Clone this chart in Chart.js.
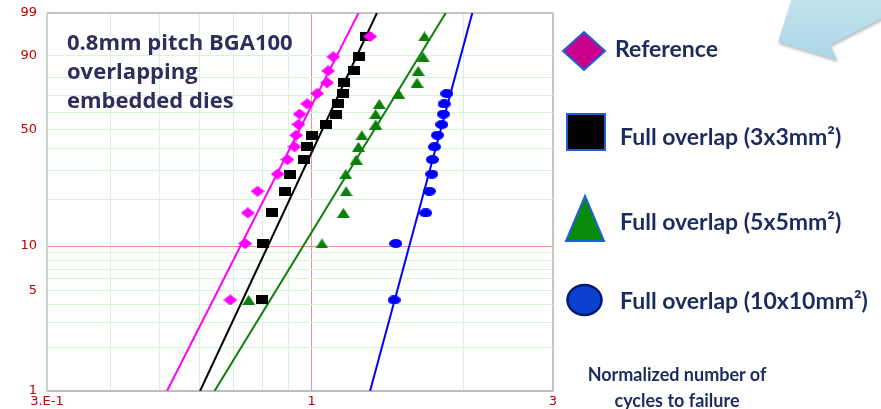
<!DOCTYPE html>
<html>
<head>
<meta charset="utf-8">
<script src="https://cdn.jsdelivr.net/npm/chart.js@4.4.1/dist/chart.umd.min.js"></script>
<style>
  body { margin: 0; background: #fff; }
  #wrap { position: relative; width: 881px; height: 409px; overflow: hidden; }
  #chart { position: absolute; left: 0; top: 0; }
  #deco { position: absolute; left: 0; top: 0; }
  .note { position: absolute; left: 67px; top: 27px; font: bold 22px "Open Sans", sans-serif; line-height: 29px; color: #2e2e5c; white-space: nowrap; }
  .lg { position: absolute; font: bold 23px Lato, sans-serif; color: #1c2b5e; white-space: nowrap; line-height: 26px; }
  .axt { position: absolute; left: 577px; top: 361px; width: 200px; text-align: center; font: bold 18px Lato, sans-serif; line-height: 26px; color: #1c2b5e; }
</style>
</head>
<body>
<div id="wrap">
  <canvas id="chart" width="881" height="409"></canvas>
  <svg id="deco" width="881" height="409">
    <defs>
      <linearGradient id="arrowFill" x1="0" y1="0" x2="0" y2="1">
        <stop offset="0" stop-color="#c4e4ee"/>
        <stop offset="1" stop-color="#a9d6e5"/>
      </linearGradient>
      <filter id="shadow" x="-20%" y="-20%" width="140%" height="160%">
        <feDropShadow dx="1" dy="2" stdDeviation="1.5" flood-color="#888" flood-opacity="0.6"/>
      </filter>
    </defs>
    <polygon points="793,-5 778,42 837,60 830,45 886,16 886,-5" fill="url(#arrowFill)" filter="url(#shadow)"/>
    <polygon points="584,32 605,51 584,70 563,51" fill="#c8008c" stroke="#1f5fd0" stroke-width="2"/>
    <rect x="567" y="114" width="38" height="36" fill="#000" stroke="#2060d0" stroke-width="2"/>
    <polygon points="585,196 604,241 566,241" fill="#0a8a0a" stroke="#2060d0" stroke-width="2"/>
    <ellipse cx="584.5" cy="300" rx="17" ry="15" fill="#0a40d0" stroke="#001a70" stroke-width="2.5"/>
  </svg>
  <div class="note">0.8mm pitch BGA100<br>overlapping<br>embedded dies</div>
  <div class="lg" style="left:615px;top:35px">Reference</div>
  <div class="lg" style="left:620px;top:123px">Full overlap (3x3mm²)</div>
  <div class="lg" style="left:620px;top:208px">Full overlap (5x5mm²)</div>
  <div class="lg" style="left:620px;top:287px">Full overlap (10x10mm²)</div>
  <div class="axt">Normalized number of<br>cycles to failure</div>
</div>
<script>
// unreliability (%) at each failure, median ranks
const rankPct = [4.3, 10.4, 16.5, 22.6, 28.7, 34.8, 40.9, 47.0, 53.0, 59.1, 65.2, 71.3, 77.4, 83.5, 89.6, 95.7];

// normalized cycles to failure, one per rank
const refCycles  = [0.691, 0.739, 0.748, 0.782, 0.857, 0.896, 0.925, 0.932, 0.942, 0.947, 0.980, 1.026, 1.073, 1.078, 1.104, 1.305];
const sq3Cycles  = [0.799, 0.803, 0.837, 0.887, 0.907, 0.967, 0.980, 1.001, 1.066, 1.116, 1.130, 1.152, 1.160, 1.213, 1.239, 1.282];
const sq5Cycles  = [0.751, 1.048, 1.156, 1.170, 1.168, 1.225, 1.238, 1.257, 1.339, 1.338, 1.361, 1.485, 1.616, 1.624, 1.661, 1.671];
const sq10Cycles = [1.456, 1.467, 1.681, 1.709, 1.728, 1.733, 1.749, 1.773, 1.809, 1.822, 1.828, 1.850]; // 4 survivors

// fitted Weibull lines: cycles where each line crosses 1% and 99%
const fitPct = [1, 99];
const refFit  = [0.518, 1.238];
const sq3Fit  = [0.602, 1.346];
const sq5Fit  = [0.643, 1.841];
const sq10Fit = [1.305, 2.078];

// axes
const yGrid = [1, 2, 3, 4, 5, 6, 7, 8, 9, 10, 20, 30, 40, 50, 60, 70, 80, 90, 99];
const yLabels = [1, 5, 10, 50, 90, 99];
const xGrid = [0.3, 0.4, 0.5, 0.6, 0.7, 0.8, 0.9, 1, 2, 3];
const xLabels = {0.3: '3.E-1', 1: '1', 3: '3'};

// Weibull probability paper: ln(-ln(1-F))
const wb = p => Math.log(-Math.log(1 - p / 100));

class WeibullScale extends Chart.LinearScale {
    static id = 'weibull';
    static defaults = {};

    getPixelForValue(value) {
        if (value === null || value === undefined) return NaN;
        const a = wb(this.min), b = wb(this.max);
        return this.getPixelForDecimal((wb(value) - a) / (b - a));
    }

    getValueForPixel(pixel) {
        const a = wb(this.min), b = wb(this.max);
        const t = a + this.getDecimalForPixel(pixel) * (b - a);
        return 100 * (1 - Math.exp(-Math.exp(t)));
    }
}
Chart.register(WeibullScale);

function marker(shape, color, w, h) {
    const c = document.createElement('canvas');
    c.width = w;
    c.height = h;
    const g = c.getContext('2d');
    g.fillStyle = color;
    g.beginPath();
    if (shape === 'diamond') {
        g.moveTo(w / 2, 0); g.lineTo(w, h / 2); g.lineTo(w / 2, h); g.lineTo(0, h / 2);
    } else if (shape === 'triangle') {
        g.moveTo(w / 2, 0); g.lineTo(w, h); g.lineTo(0, h);
    } else if (shape === 'ellipse') {
        g.ellipse(w / 2, h / 2, w / 2, h / 2, 0, 0, Math.PI * 2);
    } else {
        g.rect(0, 0, w, h);
    }
    g.closePath();
    g.fill();
    return c;
}

const pts = (xs) => xs.map((x, i) => ({x: x, y: rankPct[i]}));
const fit = (xs) => xs.map((x, i) => ({x: x, y: fitPct[i]}));

function pointSet(label, xs, style) {
    return {label: label, data: pts(xs), pointStyle: style, pointRadius: 6, showLine: false, order: 0};
}
function lineSet(label, xs, color) {
    return {label: label, data: fit(xs), showLine: true, borderColor: color, borderWidth: 2,
        pointRadius: 0, pointHoverRadius: 0, order: 1};
}

const GREEN = '#0a800a';
const PINK = '#f09090';
const MINOR = '#d6f5d6';
const EDGE = '#c4c4c4';

new Chart(document.getElementById('chart'), {
    type: 'scatter',
    data: {
        datasets: [
            pointSet('Reference', refCycles, marker('diamond', '#ff00ff', 14, 11)),
            pointSet('Full overlap (3x3mm²)', sq3Cycles, marker('rect', '#000', 12, 9)),
            pointSet('Full overlap (5x5mm²)', sq5Cycles, marker('triangle', GREEN, 13, 10)),
            pointSet('Full overlap (10x10mm²)', sq10Cycles, marker('ellipse', '#0000ff', 13, 9)),
            lineSet('Reference fit', refFit, '#ff00ff'),
            lineSet('3x3 fit', sq3Fit, '#000'),
            lineSet('5x5 fit', sq5Fit, GREEN),
            lineSet('10x10 fit', sq10Fit, '#0000ff'),
        ]
    },
    options: {
        responsive: false,
        animation: false,
        layout: {padding: {top: 13, right: 328, bottom: 0, left: 0}},
        plugins: {legend: {display: false}},
        scales: {
            x: {
                type: 'logarithmic',
                min: 0.3,
                max: 3,
                afterBuildTicks: s => { s.ticks = xGrid.map(v => ({value: v})); },
                afterFit: s => { s.height = 18; },
                ticks: {
                    autoSkip: false, maxRotation: 0, padding: 3,
                    color: '#c00000', font: {family: 'DejaVu Sans', size: 13},
                    callback: v => xLabels[v] || ''
                },
                grid: {
                    drawTicks: false,
                    color: c => c.tick.value === 1 ? PINK : (c.tick.value === 3 ? EDGE : MINOR),
                    lineWidth: c => c.tick.value === 3 ? 2 : 1
                },
                border: {color: '#bdbdbd', width: 2}
            },
            y: {
                type: 'weibull',
                min: 1,
                max: 99,
                afterBuildTicks: s => { s.ticks = yGrid.map(v => ({value: v})); },
                afterFit: s => { s.width = 47; s.paddingTop = 0; s.paddingBottom = 0; },
                ticks: {
                    autoSkip: false, padding: 10,
                    color: '#c00000', font: {family: 'DejaVu Sans', size: 13},
                    callback: v => yLabels.includes(v) ? String(v) : ''
                },
                grid: {
                    drawTicks: false,
                    color: c => c.tick.value === 10 ? PINK : (c.tick.value === 99 ? EDGE : MINOR),
                    lineWidth: c => c.tick.value === 99 ? 2 : 1
                },
                border: {color: '#c6d8c6', width: 2}
            }
        }
    }
});
</script>
</body>
</html>
